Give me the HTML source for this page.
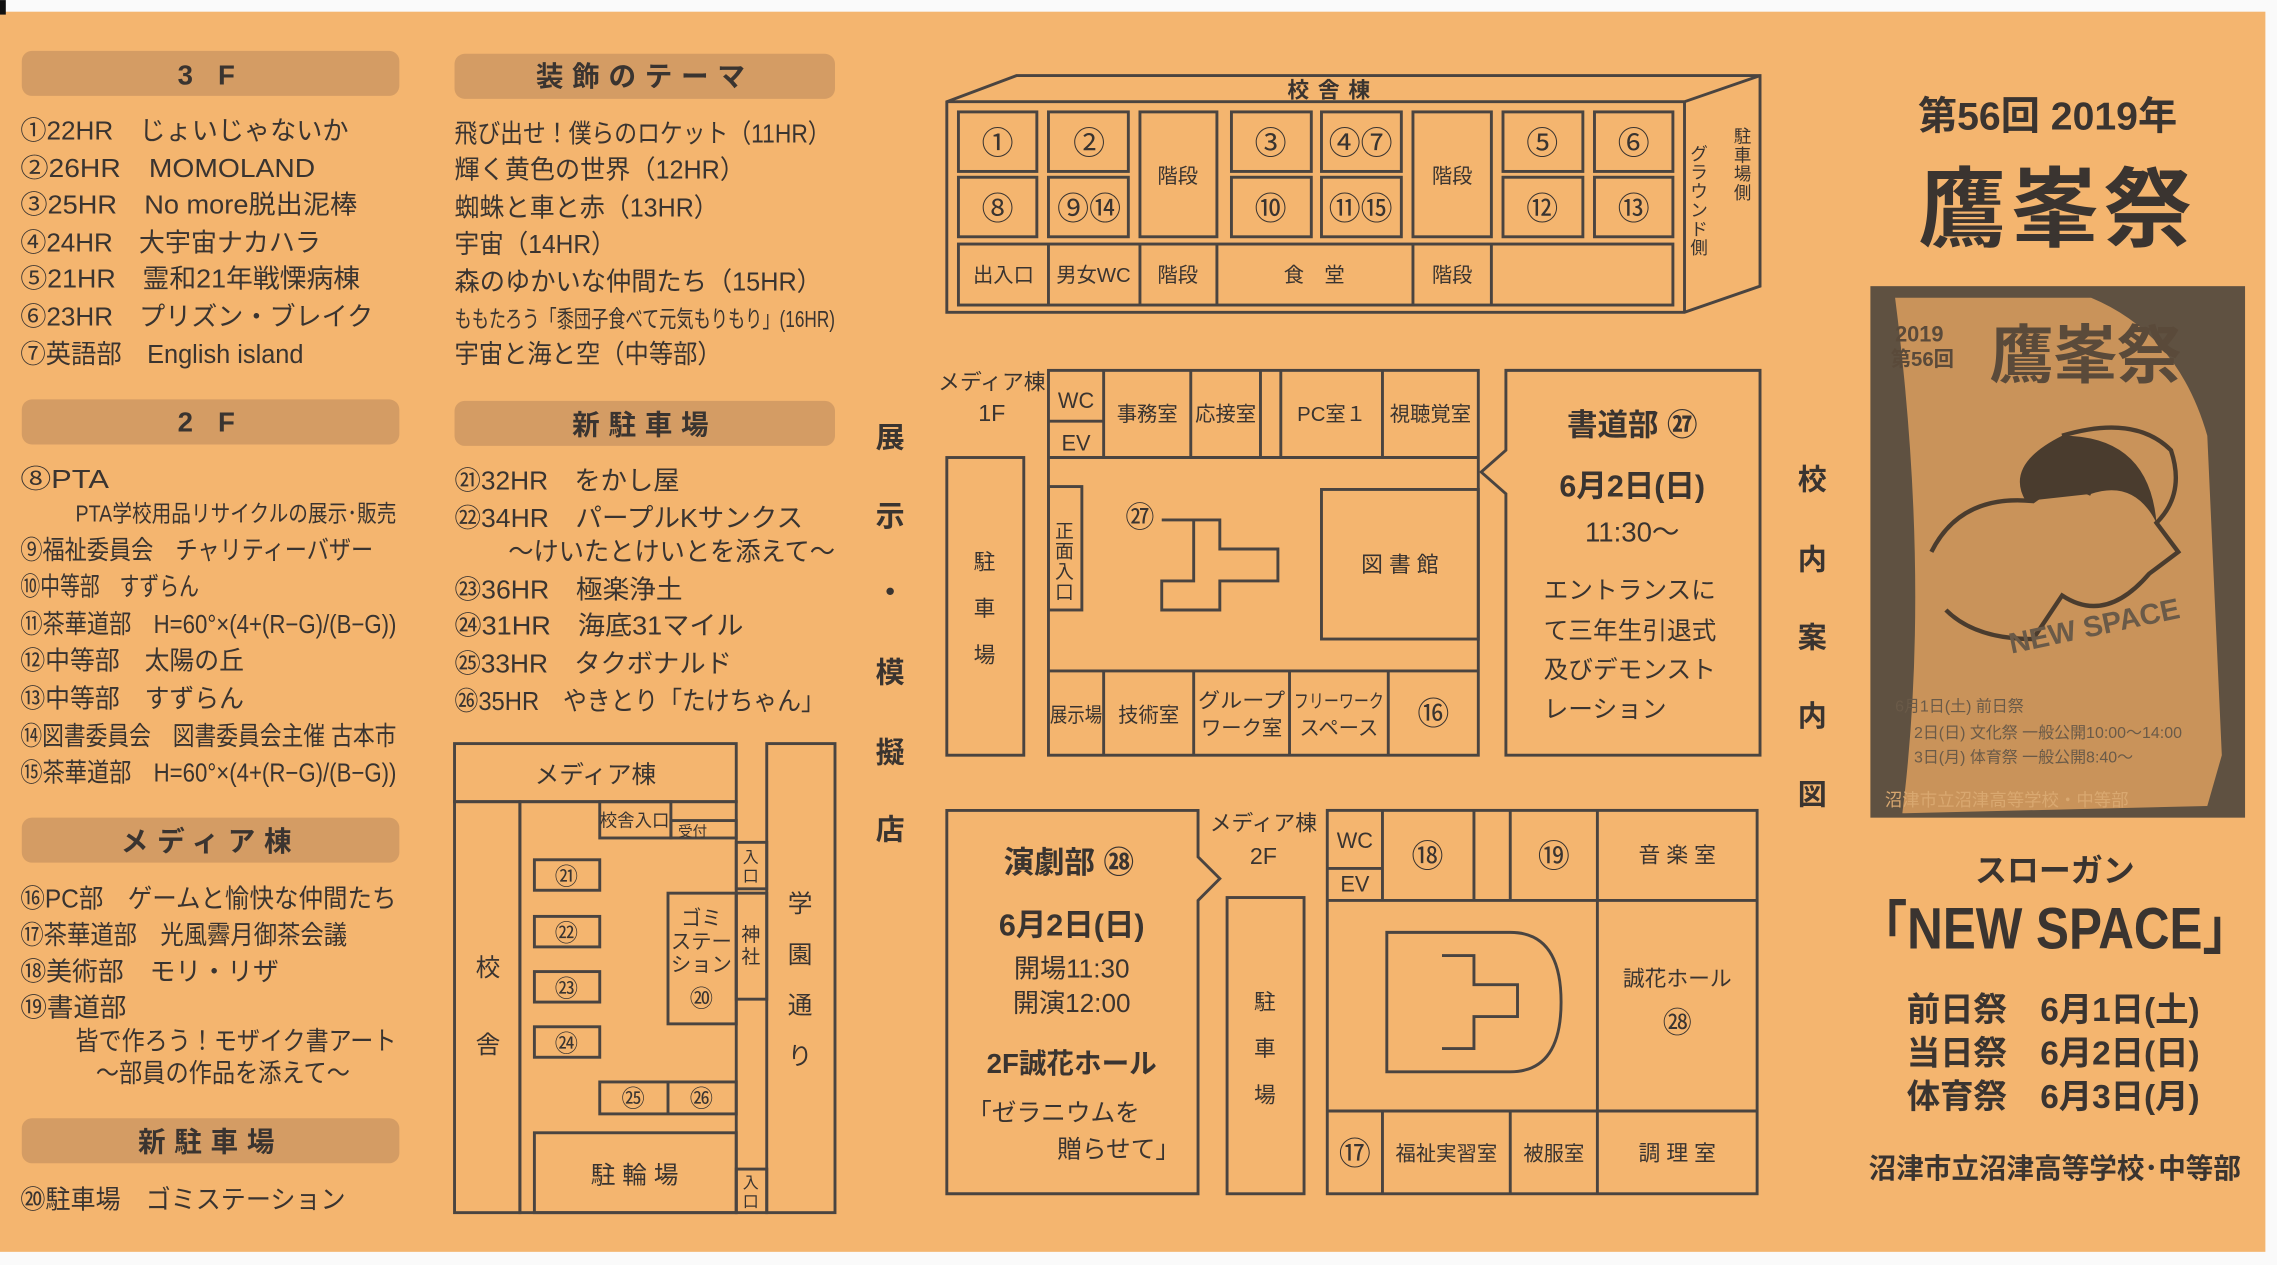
<!DOCTYPE html>
<html><head><meta charset="utf-8"><style>
html,body{margin:0;padding:0;background:#fff;}
svg{display:block}
text{font-family:"Liberation Sans","Noto Sans CJK JP",sans-serif;fill:#3a3430;}
.i{font-size:18px}
.h{font-size:19px;font-weight:bold;text-anchor:middle;letter-spacing:6px}
.c{text-anchor:middle}
.s{font-size:14px;text-anchor:middle}
.b{fill:none;stroke:#4a4440;stroke-width:2}
</style></head><body>
<svg width="2277" height="1265" viewBox="0 0 1568 871" xmlns="http://www.w3.org/2000/svg">
<rect x="0" y="0" width="1568" height="871" fill="#fafafa"/>
<rect x="0" y="8" width="1560" height="854" fill="#f4b56f"/>
<rect x="0" y="0" width="4" height="10" fill="#111"/>
<g fill="#d49c64">
<rect x="15" y="35" width="260" height="31" rx="7"/>
<rect x="15" y="275" width="260" height="31" rx="7"/>
<rect x="15" y="563" width="260" height="31" rx="7"/>
<rect x="15" y="770" width="260" height="31" rx="7"/>
<rect x="313" y="37" width="262" height="31" rx="7"/>
<rect x="313" y="276" width="262" height="31" rx="7"/>
</g>
<text class="h" x="145" y="58">3 F</text>
<text class="h" x="145" y="297">2 F</text>
<text class="h" x="145" y="586">メディア棟</text>
<text class="h" x="145" y="793">新駐車場</text>
<text class="h" x="444" y="59">装飾のテーマ</text>
<text class="h" x="444" y="299">新駐車場</text>
<g class="i" lengthAdjust="spacingAndGlyphs">
<text x="14" y="96" textLength="226" lengthAdjust="spacingAndGlyphs">①22HR　じょいじゃないか</text>
<text x="14" y="122" textLength="203" lengthAdjust="spacingAndGlyphs">②26HR　MOMOLAND</text>
<text x="14" y="147" textLength="232" lengthAdjust="spacingAndGlyphs">③25HR　No more脱出泥棒</text>
<text x="14" y="173" textLength="207" lengthAdjust="spacingAndGlyphs">④24HR　大宇宙ナカハラ</text>
<text x="14" y="198" textLength="234" lengthAdjust="spacingAndGlyphs">⑤21HR　霊和21年戦慄病棟</text>
<text x="14" y="224" textLength="243" lengthAdjust="spacingAndGlyphs">⑥23HR　プリズン・ブレイク</text>
<text x="14" y="250" textLength="195" lengthAdjust="spacingAndGlyphs">⑦英語部　English island</text>
<text x="14" y="336" textLength="61" lengthAdjust="spacingAndGlyphs">⑧PTA</text>
<text x="52" y="359" style="font-size:16px" textLength="221" lengthAdjust="spacingAndGlyphs">PTA学校用品リサイクルの展示･販売</text>
<text x="14" y="385" textLength="243" lengthAdjust="spacingAndGlyphs">⑨福祉委員会　チャリティーバザー</text>
<text x="14" y="410" textLength="123" lengthAdjust="spacingAndGlyphs">⑩中等部　すずらん</text>
<text x="14" y="436" textLength="259" lengthAdjust="spacingAndGlyphs">⑪茶華道部　H=60°×(4+(R−G)/(B−G))</text>
<text x="14" y="461" textLength="154" lengthAdjust="spacingAndGlyphs">⑫中等部　太陽の丘</text>
<text x="14" y="487" textLength="154" lengthAdjust="spacingAndGlyphs">⑬中等部　すずらん</text>
<text x="14" y="513" textLength="259" lengthAdjust="spacingAndGlyphs">⑭図書委員会　図書委員会主催 古本市</text>
<text x="14" y="538" textLength="259" lengthAdjust="spacingAndGlyphs">⑮茶華道部　H=60°×(4+(R−G)/(B−G))</text>
<text x="14" y="625" textLength="259" lengthAdjust="spacingAndGlyphs">⑯PC部　ゲームと愉快な仲間たち</text>
<text x="14" y="650" textLength="225" lengthAdjust="spacingAndGlyphs">⑰茶華道部　光風霽月御茶会議</text>
<text x="14" y="675" textLength="178" lengthAdjust="spacingAndGlyphs">⑱美術部　モリ・リザ</text>
<text x="14" y="700" textLength="73" lengthAdjust="spacingAndGlyphs">⑲書道部</text>
<text x="52" y="723" textLength="221" lengthAdjust="spacingAndGlyphs">皆で作ろう！モザイク書アート</text>
<text x="66" y="745" textLength="175" lengthAdjust="spacingAndGlyphs">〜部員の作品を添えて〜</text>
<text x="14" y="832" textLength="224" lengthAdjust="spacingAndGlyphs">⑳駐車場　ゴミステーション</text>
<text x="313" y="98" textLength="259" lengthAdjust="spacingAndGlyphs">飛び出せ！僕らのロケット（11HR）</text>
<text x="313" y="123" textLength="200" lengthAdjust="spacingAndGlyphs">輝く黄色の世界（12HR）</text>
<text x="313" y="149" textLength="182" lengthAdjust="spacingAndGlyphs">蜘蛛と車と赤（13HR）</text>
<text x="313" y="174" textLength="111" lengthAdjust="spacingAndGlyphs">宇宙（14HR）</text>
<text x="313" y="200" textLength="253" lengthAdjust="spacingAndGlyphs">森のゆかいな仲間たち（15HR）</text>
<text x="313" y="225" style="font-size:16px" textLength="262" lengthAdjust="spacingAndGlyphs">ももたろう「黍団子食べて元気もりもり」(16HR)</text>
<text x="313" y="250" textLength="184" lengthAdjust="spacingAndGlyphs">宇宙と海と空（中等部）</text>
<text x="313" y="337" textLength="155" lengthAdjust="spacingAndGlyphs">㉑32HR　をかし屋</text>
<text x="313" y="363" textLength="240" lengthAdjust="spacingAndGlyphs">㉒34HR　パープルKサンクス</text>
<text x="350" y="386" textLength="225" lengthAdjust="spacingAndGlyphs">〜けいたとけいとを添えて〜</text>
<text x="313" y="412" textLength="157" lengthAdjust="spacingAndGlyphs">㉓36HR　極楽浄土</text>
<text x="313" y="437" textLength="199" lengthAdjust="spacingAndGlyphs">㉔31HR　海底31マイル</text>
<text x="313" y="463" textLength="191" lengthAdjust="spacingAndGlyphs">㉕33HR　タクボナルド</text>
<text x="313" y="489" textLength="255" lengthAdjust="spacingAndGlyphs">㉖35HR　やきとり「たけちゃん」</text>
</g>
<g class="b">
<rect x="313" y="512" width="194" height="40"/>
<rect x="313" y="552" width="45" height="283"/>
<rect x="358" y="552" width="149" height="283"/>
<rect x="528" y="512" width="47" height="323"/>
<rect x="507" y="580" width="21" height="32"/>
<rect x="507" y="805" width="21" height="30"/>
<rect x="413" y="552" width="49" height="25"/>
<rect x="462" y="565" width="45" height="12"/>
<rect x="368" y="592" width="45" height="21"/>
<rect x="368" y="631" width="45" height="21"/>
<rect x="368" y="669" width="45" height="21"/>
<rect x="368" y="707" width="45" height="21"/>
<rect x="460" y="615" width="47" height="90"/>
<rect x="507" y="615" width="21" height="73"/>
<rect x="413" y="745" width="94" height="22"/>
<line x1="460" y1="745" x2="460" y2="767"/>
<rect x="368" y="780" width="139" height="55"/>
</g>
<text class="c" x="410" y="539" style="font-size:17px">メディア棟</text>
<text class="c" x="336" y="672" style="font-size:17px">校</text>
<text class="c" x="336" y="725" style="font-size:17px">舎</text>
<text class="c" x="551" y="628" style="font-size:17px">学</text>
<text class="c" x="551" y="663" style="font-size:17px">園</text>
<text class="c" x="551" y="698" style="font-size:17px">通</text>
<text class="c" x="551" y="733" style="font-size:17px">り</text>
<text class="c" x="437" y="569" style="font-size:12px">校舎入口</text>
<text class="c" x="477" y="576" style="font-size:10px">受付</text>
<text class="c" x="517" y="594" style="font-size:11px">入</text>
<text class="c" x="517" y="607" style="font-size:11px">口</text>
<text class="c" x="517" y="818" style="font-size:11px">入</text>
<text class="c" x="517" y="831" style="font-size:11px">口</text>
<text class="c" x="390" y="609" style="font-size:16px">㉑</text>
<text class="c" x="390" y="648" style="font-size:16px">㉒</text>
<text class="c" x="390" y="686" style="font-size:16px">㉓</text>
<text class="c" x="390" y="724" style="font-size:16px">㉔</text>
<text class="c" x="483" y="637" style="font-size:14px">ゴミ</text>
<text class="c" x="483" y="653" style="font-size:14px">ステー</text>
<text class="c" x="483" y="669" style="font-size:14px">ション</text>
<text class="c" x="483" y="693" style="font-size:16px">⑳</text>
<text class="c" x="517" y="648" style="font-size:13px">神</text>
<text class="c" x="517" y="663" style="font-size:13px">社</text>
<text class="c" x="436" y="762" style="font-size:16px">㉕</text>
<text class="c" x="483" y="762" style="font-size:16px">㉖</text>
<text class="c" x="437" y="815" style="font-size:17px">駐 輪 場</text>
<g style="font-size:20px;font-weight:bold" class="c">
<text class="c" x="613" y="308">展</text>
<text class="c" x="613" y="362">示</text>
<text class="c" x="613" y="415">・</text>
<text class="c" x="613" y="470">模</text>
<text class="c" x="613" y="525">擬</text>
<text class="c" x="613" y="578">店</text>
<text class="c" x="1248" y="337">校</text>
<text class="c" x="1248" y="392">内</text>
<text class="c" x="1248" y="446">案</text>
<text class="c" x="1248" y="500">内</text>
<text class="c" x="1248" y="554">図</text>
</g>
<g class="b">
<path d="M652 70 L700 52 L1212 52 L1212 197 L1160 215 L652 215 Z"/>
<path d="M652 70 L1160 70 L1212 52 M1160 70 L1160 215"/>
<rect x="660" y="77" width="54" height="41"/><rect x="722" y="77" width="55" height="41"/>
<rect x="785" y="77" width="53" height="86"/>
<rect x="848" y="77" width="55" height="41"/><rect x="910" y="77" width="55" height="41"/>
<rect x="973" y="77" width="54" height="86"/>
<rect x="1035" y="77" width="55" height="41"/><rect x="1098" y="77" width="54" height="41"/>
<rect x="660" y="122" width="54" height="41"/><rect x="722" y="122" width="55" height="41"/>
<rect x="848" y="122" width="55" height="41"/><rect x="910" y="122" width="55" height="41"/>
<rect x="1035" y="122" width="55" height="41"/><rect x="1098" y="122" width="54" height="41"/>
<rect x="660" y="168" width="492" height="42"/>
<path d="M722 168V210M785 168V210M838 168V210M973 168V210M1027 168V210"/>
</g>
<text class="c" x="918" y="67" style="font-size:15px;font-weight:bold;letter-spacing:6px">校舎棟</text>
<g style="font-size:22px">
<text class="c" x="687" y="106">①</text><text class="c" x="750" y="106">②</text>
<text class="c" x="875" y="106">③</text><text class="c" x="937" y="106">④⑦</text>
<text class="c" x="1062" y="106">⑤</text><text class="c" x="1125" y="106">⑥</text>
<text class="c" x="687" y="151">⑧</text><text class="c" x="750" y="151">⑨⑭</text>
<text class="c" x="875" y="151">⑩</text><text class="c" x="937" y="151">⑪⑮</text>
<text class="c" x="1062" y="151">⑫</text><text class="c" x="1125" y="151">⑬</text>
</g>
<text class="s" x="811" y="126">階段</text><text class="s" x="1000" y="126">階段</text>
<text class="s" x="691" y="194">出入口</text><text class="s" x="753" y="194">男女WC</text>
<text class="s" x="811" y="194">階段</text><text class="s" x="905" y="194">食　堂</text>
<text class="s" x="1000" y="194">階段</text>
<g style="font-size:12px">
<text x="1194" y="98">駐</text><text x="1194" y="111">車</text><text x="1194" y="124">場</text><text x="1194" y="137">側</text>
<text x="1164" y="110">グ</text><text x="1164" y="123">ラ</text><text x="1164" y="136">ウ</text><text x="1164" y="149">ン</text><text x="1164" y="162">ド</text><text x="1164" y="175">側</text>
</g>
<text class="c" x="683" y="268" style="font-size:15px">メディア棟</text>
<text class="c" x="683" y="290" style="font-size:16px">1F</text>
<g class="b">
<rect x="652" y="315" width="53" height="205"/>
<rect x="722" y="255" width="296" height="265"/>
<path d="M722 315H1018M722 290H760M760 255V315M820 255V315M868 255V315M882 255V315M952 255V315"/>
<path d="M722 462H1018M760 462V520M822 462V520M888 462V520M956 462V520"/>
<rect x="722" y="335" width="23" height="85"/>
<rect x="910" y="337" width="108" height="103"/>
<path d="M800 358H822V400H800V420H840V400H880V378H840V358H822"/>
<path d="M1037 255H1212V520H1037V340L1020 325L1037 310Z"/>
</g>
<text class="c" x="678" y="392" style="font-size:15px">駐</text>
<text class="c" x="678" y="424" style="font-size:15px">車</text>
<text class="c" x="678" y="456" style="font-size:15px">場</text>
<text class="c" x="741" y="281" style="font-size:15px">WC</text>
<text class="c" x="741" y="310" style="font-size:15px">EV</text>
<text class="s" x="790" y="290">事務室</text><text class="s" x="844" y="290">応接室</text>
<text class="s" x="917" y="290">PC室１</text><text class="s" x="985" y="290">視聴覚室</text>
<g style="font-size:13px"><text class="c" x="733" y="370">正</text><text class="c" x="733" y="384">面</text><text class="c" x="733" y="398">入</text><text class="c" x="733" y="412">口</text></g>
<text class="c" x="785" y="363" style="font-size:20px">㉗</text>
<text class="c" x="964" y="394" style="font-size:15px">図 書 館</text>
<text class="s" x="741" y="497" textLength="36" lengthAdjust="spacingAndGlyphs">展示場</text><text class="s" x="791" y="497">技術室</text>
<text class="s" x="855" y="487" textLength="60" lengthAdjust="spacingAndGlyphs">グループ</text><text class="s" x="855" y="506">ワーク室</text>
<text class="s" x="922" y="487" style="font-size:13px" textLength="62" lengthAdjust="spacingAndGlyphs">フリーワーク</text><text class="s" x="922" y="506">スペース</text>
<text class="c" x="987" y="499" style="font-size:22px">⑯</text>
<text class="c" x="1124" y="300" style="font-size:21px;font-weight:bold">書道部 ㉗</text>
<text class="c" x="1124" y="342" style="font-size:21px;font-weight:bold">6月2日(日)</text>
<text class="c" x="1124" y="373" style="font-size:19px">11:30〜</text>
<g style="font-size:17px"><text x="1063" y="412">エントランスに</text><text x="1063" y="440">て三年生引退式</text><text x="1063" y="467">及びデモンスト</text><text x="1063" y="494">レーション</text></g>
<text class="c" x="870" y="572" style="font-size:15px">メディア棟</text>
<text class="c" x="870" y="595" style="font-size:16px">2F</text>
<g class="b">
<path d="M652 558H825V590L840 605L825 620V822H652Z"/>
<rect x="845" y="618" width="53" height="204"/>
<rect x="914" y="558" width="296" height="264"/>
<path d="M914 620H1210M914 598H952M952 558V620M1015 558V620M1040 558V620M1100 558V620"/>
<path d="M914 765H1210M952 765V822M1040 765V822M1100 765V822M1100 620V765"/>
<path d="M955 642H1040Q1075 642 1075 690Q1075 738 1040 738H955Z"/>
<path d="M993 658H1015V678H1045V700H1015V722H993"/>
</g>
<text class="c" x="736" y="601" style="font-size:21px;font-weight:bold">演劇部 ㉘</text>
<text class="c" x="738" y="644" style="font-size:21px;font-weight:bold">6月2日(日)</text>
<text class="c" x="738" y="673" style="font-size:18px">開場11:30</text>
<text class="c" x="738" y="697" style="font-size:18px">開演12:00</text>
<text class="c" x="738" y="739" style="font-size:19px;font-weight:bold">2F誠花ホール</text>
<text x="666" y="772" style="font-size:17px">「ゼラニウムを</text>
<text x="728" y="797" style="font-size:17px">贈らせて」</text>
<text class="c" x="871" y="695" style="font-size:15px">駐</text>
<text class="c" x="871" y="727" style="font-size:15px">車</text>
<text class="c" x="871" y="759" style="font-size:15px">場</text>
<text class="c" x="933" y="584" style="font-size:15px">WC</text>
<text class="c" x="933" y="614" style="font-size:15px">EV</text>
<text class="c" x="983" y="597" style="font-size:22px">⑱</text>
<text class="c" x="1070" y="597" style="font-size:22px">⑲</text>
<text class="c" x="1155" y="594" style="font-size:15px">音 楽 室</text>
<text class="c" x="1155" y="679" style="font-size:15px">誠花ホール</text>
<text class="c" x="1155" y="711" style="font-size:20px">㉘</text>
<text class="c" x="933" y="802" style="font-size:22px">⑰</text>
<text class="s" x="996" y="799">福祉実習室</text><text class="s" x="1070" y="799">被服室</text>
<text class="c" x="1155" y="799" style="font-size:15px">調 理 室</text>
<text class="c" x="1410" y="89" style="font-size:27px;font-weight:bold">第56回 2019年</text>
<text class="c" x="1417" y="165" style="font-size:60px;font-weight:bold;letter-spacing:4px">鷹峯祭</text>
<rect x="1288" y="197" width="258" height="366" fill="#5f5141"/>
<path d="M1305 205 L1440 205 Q1500 230 1520 300 L1530 520 L1520 555 L1310 560 Q1330 400 1305 205Z" fill="#c9935a"/>
<text x="1305" y="235" style="font-size:15px;font-weight:bold;fill:#5a4a3a">2019</text>
<text x="1302" y="252" style="font-size:14px;font-weight:bold;fill:#5a4a3a">第56回</text>
<text x="1370" y="260" style="font-size:44px;font-weight:bold;fill:#5a4a3a">鷹峯祭</text>
<path d="M1420 300 Q1470 285 1495 310 Q1505 340 1485 360 L1500 380 L1480 395 Q1450 430 1420 410 L1400 440 Q1360 440 1340 420 M1330 380 Q1350 340 1400 345 Q1420 330 1440 340" fill="none" stroke="#4a3c2e" stroke-width="3"/>
<path d="M1420 300 Q1380 320 1395 345 L1440 340 Q1470 330 1485 360 Q1480 300 1420 300Z" fill="#4a3c2e"/>
<text x="1380" y="438" transform="rotate(-12 1440 420)" style="font-size:20px;font-weight:bold;fill:#6a5a48">NEW SPACE</text>
<text x="1305" y="490" style="font-size:11px;fill:#6a5a48">6月1日(土) 前日祭</text>
<text x="1318" y="508" style="font-size:11px;fill:#6a5a48">2日(日) 文化祭 一般公開10:00〜14:00</text>
<text x="1318" y="525" style="font-size:11px;fill:#6a5a48">3日(月) 体育祭 一般公開8:40〜</text>
<text x="1298" y="555" style="font-size:12px;fill:#d9a870">沼津市立沼津高等学校・中等部</text>
<text class="c" x="1415" y="607" style="font-size:22px;font-weight:bold">スローガン</text>
<text class="c" x="1415" y="653" style="font-size:40px;font-weight:bold" transform="translate(1415 0) scale(0.85 1) translate(-1415 0)">「NEW SPACE」</text>
<g style="font-size:23px;font-weight:bold">
<text x="1313" y="703">前日祭　6月1日(土)</text>
<text x="1313" y="733">当日祭　6月2日(日)</text>
<text x="1313" y="763">体育祭　6月3日(月)</text>
</g>
<text class="c" x="1415" y="811" style="font-size:19px;font-weight:bold">沼津市立沼津高等学校･中等部</text>
</svg>
</body></html>
